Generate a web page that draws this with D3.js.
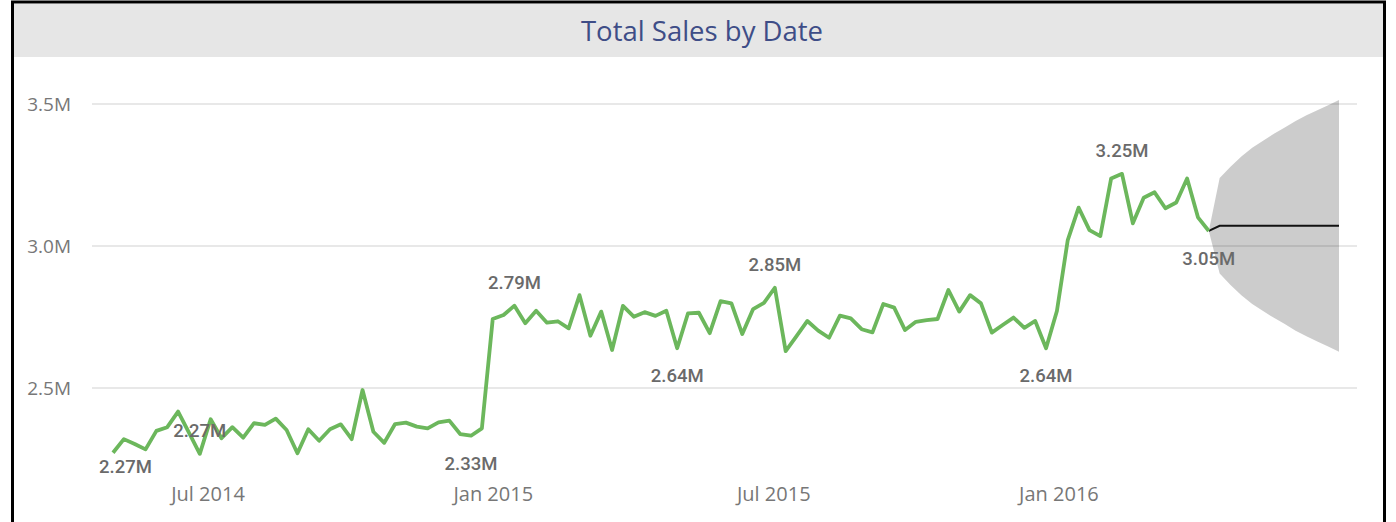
<!DOCTYPE html>
<html><head><meta charset="utf-8">
<script src="https://cdn.jsdelivr.net/npm/d3@7"></script>
<style>body{margin:0;background:#fff;overflow:hidden}</style>
</head><body><svg id="c" width="1396" height="522"></svg>
<script>
// ---------- data ----------
const titleText = "Total Sales by Date";
const startDate = "2014-05-01";          // first weekly point
// weekly total sales, millions
const sales = [
 2.272, 2.320, 2.303, 2.284, 2.349, 2.362, 2.417, 2.343, 2.268, 2.390,
 2.323, 2.362, 2.325, 2.376, 2.370, 2.392, 2.352, 2.270, 2.355, 2.314,
 2.355, 2.372, 2.320, 2.493, 2.346, 2.307, 2.373, 2.378, 2.364, 2.358,
 2.379, 2.385, 2.338, 2.332, 2.358, 2.743, 2.757, 2.790, 2.728, 2.772,
 2.730, 2.735, 2.710, 2.827, 2.684, 2.769, 2.634, 2.789, 2.751, 2.767,
 2.754, 2.772, 2.640, 2.763, 2.765, 2.693, 2.806, 2.798, 2.690, 2.778,
 2.800, 2.853, 2.630, 2.683, 2.736, 2.702, 2.677, 2.755, 2.745, 2.707,
 2.696, 2.796, 2.783, 2.704, 2.733, 2.739, 2.743, 2.845, 2.769, 2.827,
 2.798, 2.695, 2.722, 2.748, 2.712, 2.736, 2.640, 2.771, 3.021, 3.135,
 3.056, 3.035, 3.238, 3.254, 3.080, 3.170, 3.189, 3.133, 3.153, 3.238,
 3.101, 3.053
];
// 12-week forecast, millions
const forecast = [3.071, 3.071, 3.071, 3.071, 3.071, 3.071, 3.071, 3.071, 3.071, 3.071, 3.071, 3.071];
const upperBound = [3.239, 3.279, 3.315, 3.346, 3.371, 3.395, 3.417, 3.440, 3.460, 3.478, 3.496, 3.514];
const lowerBound = [2.903, 2.863, 2.827, 2.796, 2.771, 2.747, 2.725, 2.702, 2.682, 2.664, 2.646, 2.628];
const yTicks = [2.5, 3.0, 3.5];
const xTicks = ["2014-07-01", "2015-01-01", "2015-07-01", "2016-01-01"];
// labelled points (index into sales) and side
const labelIdx  = [0, 8, 33, 37, 52, 61, 86, 93, 101];
const labelSide = ["below", "above", "below", "above", "below", "above", "below", "above", "below"];

// ---------- build ----------
const parse = d3.utcParse("%Y-%m-%d");
const t0 = parse(startDate);
const actual = sales.map((v, i) => ({date: d3.utcDay.offset(t0, 7 * i), v}));
const last = actual[actual.length - 1];
const fc = forecast.map((v, k) => ({date: d3.utcDay.offset(last.date, 7 * (k + 1)), v, hi: upperBound[k], lo: lowerBound[k]}));
const fcLine = [{date: last.date, v: last.v}].concat(fc);
const band = [{date: last.date, hi: last.v, lo: last.v}].concat(fc);

const svg = d3.select("#c");

const x = d3.scaleUtc().domain([actual[0].date, fc[fc.length - 1].date]).range([113, 1339]);
const y = d3.scaleLinear().domain([2.5, 3.5]).range([388, 104]);

const uiFont = "'Segoe UI','Open Sans',sans-serif";

// frame + title bar
svg.append("rect").attr("x", 14).attr("y", 4).attr("width", 1369).attr("height", 53).attr("fill", "#e6e6e6");
svg.append("rect").attr("x", 12.5).attr("y", 2).attr("width", 1372).attr("height", 640)
  .attr("fill", "none").attr("stroke", "#000").attr("stroke-width", 3);
svg.append("text").attr("x", 702).attr("y", 30).attr("text-anchor", "middle").attr("dominant-baseline", "central")
  .attr("font-family", uiFont).attr("font-size", 27.5).attr("fill", "#3e4d87")
  .text(titleText);

// gridlines + y labels
const gy = svg.append("g");
gy.selectAll("line").data(yTicks).join("line")
  .attr("x1", 92).attr("x2", 1357).attr("y1", d => y(d)).attr("y2", d => y(d))
  .attr("stroke", "#e8e8e8").attr("stroke-width", 2);
gy.selectAll("text").data(yTicks).join("text")
  .attr("x", 71).attr("y", d => y(d)).attr("text-anchor", "end").attr("dominant-baseline", "central")
  .attr("font-family", uiFont).attr("font-size", 19).attr("fill", "#777")
  .text(d => d3.format(".1f")(d) + "M");

// x axis
const xAxis = d3.axisBottom(x).tickValues(xTicks.map(parse)).tickFormat(d3.utcFormat("%b %Y")).tickSize(0).tickPadding(0);
const gx = svg.append("g").attr("transform", "translate(0,487)").call(xAxis);
gx.select(".domain").remove();
gx.selectAll("text").attr("font-family", uiFont).attr("font-size", 20).attr("fill", "#777");

// forecast band
svg.append("path").datum(band)
  .attr("d", d3.area().x(d => x(d.date)).y0(d => y(d.lo)).y1(d => y(d.hi)))
  .attr("fill", "#000").attr("fill-opacity", 0.2);

// forecast line
svg.append("path").datum(fcLine)
  .attr("d", d3.line().x(d => x(d.date)).y(d => y(d.v)))
  .attr("fill", "none").attr("stroke", "#111").attr("stroke-width", 2);

// actual line
svg.append("path").datum(actual)
  .attr("d", d3.line().x(d => x(d.date)).y(d => y(d.v)))
  .attr("fill", "none").attr("stroke", "#6cb75c").attr("stroke-width", 3.8).attr("stroke-linejoin", "round");

// data labels
const lg = svg.append("g");
labelIdx.forEach((idx, j) => {
  const d = actual[idx];
  const t = lg.append("text")
    .attr("text-anchor", "middle").attr("dominant-baseline", "central")
    .attr("font-family", "Roboto, 'DejaVu Sans', sans-serif").attr("font-size", 18.5).attr("font-weight", 500)
    .attr("fill", "#6a6a6a")
    .text(d3.format(".2f")(d.v) + "M");
  const w = t.node().getComputedTextLength();
  let cx = Math.max(x(d.date), 99 + w / 2);
  let cy = y(d.v) + (labelSide[j] === "above" ? -23 : 28);
  cy = Math.min(cy, 467);
  t.attr("x", cx).attr("y", cy);
});
</script>
</body></html>
